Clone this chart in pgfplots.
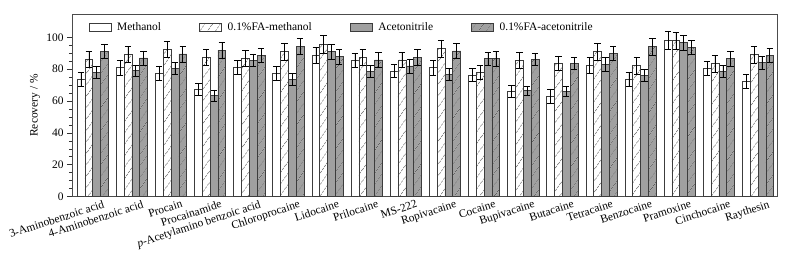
\documentclass[border=0pt]{standalone}
\usepackage{fontspec}
\setmainfont{Liberation Serif}
\usepackage{pgfplots}
\usepackage{pgfplotstable}
\pgfplotsset{compat=1.18}
\usetikzlibrary{patterns.meta}

\definecolor{bargray}{RGB}{160,160,160}
\definecolor{edge}{RGB}{60,60,60}

\pgfplotstableread{
x m me fm fme a ae fa fae
0 73.6 4.2 86.4 5.0 78.0 4.0 91.2 4.6
1 81.0 4.6 89.2 5.0 79.0 3.5 87.0 4.5
2 77.5 4.5 92.5 5.0 80.5 4.0 89.5 5.0
3 67.5 3.6 87.4 5.0 63.5 3.5 92.0 5.0
4 81.0 4.5 86.8 5.0 85.5 4.0 88.5 4.5
5 77.5 4.3 91.0 5.5 73.5 3.8 94.2 5.0
6 88.7 5.0 95.6 5.4 91.0 4.6 87.8 4.7
7 85.6 4.2 87.3 5.2 78.7 3.7 85.8 4.5
8 78.9 4.0 85.8 4.8 82.0 4.4 87.3 5.0
9 80.9 4.8 92.9 5.5 76.5 3.8 91.4 4.8
10 76.3 4.0 78.0 4.6 86.6 4.0 86.6 4.8
11 65.9 3.7 85.4 5.0 66.5 3.0 86.2 4.0
12 63.2 4.4 83.7 4.6 66.0 3.0 83.7 4.0
13 82.3 5.0 91.0 5.2 83.1 4.4 90.0 4.5
14 73.6 4.2 82.2 5.2 76.0 3.6 94.1 5.3
15 98.3 5.7 97.9 5.2 96.6 4.8 93.5 4.4
16 80.5 4.6 83.5 5.3 78.6 3.8 86.5 4.6
17 72.5 4.2 89.1 5.2 84.0 4.0 88.5 4.5
}\data

\begin{document}
\begin{tikzpicture}[font=\fontsize{11.5}{13}\selectfont]
\begin{axis}[
  scale only axis,
  width=705bp, height=182.4bp,
  ybar=0pt, bar width=0.2,
  xmin=-0.53, xmax=17.485,
  ymin=0, ymax=114.4,
  ytick={0,20,...,100}, minor y tick num=3,
  tick pos=left, tick align=outside,
  major tick length=5bp, minor tick length=3bp,
  xtick={0,...,17},
  xticklabels={3-Aminobenzoic acid,4-Aminobenzoic acid,Procain,Procainamide,{\itshape p}-Acetylamino benzoic acid,Chloroprocaine,Lidocaine,Prilocaine,MS-222,Ropivacaine,Cocaine,Bupivacaine,Butacaine,Tetracaine,Benzocaine,Pramoxine,Cinchocaine,Raythesin},
  x tick style={draw=none},
  xticklabel style={rotate=18, anchor=north east, xshift=11bp, inner sep=1bp},
  tick label style={font=\fontsize{11.5}{13}\selectfont},
  ylabel={Recovery / \%},
  ylabel style={font=\fontsize{11.5}{13}\selectfont, at={(axis description cs:-0.0525,0.5)}, anchor=center},
  /pgf/number format/assume math mode=true,
  axis line style={black!70, line width=0.8bp},
  tick style={black!80, line width=0.7bp},
  legend style={at={(axis description cs:0.019,0.93)}, anchor=west, draw=none, fill=none,
    font=\fontsize{11.5}{13}\selectfont, legend columns=4,
    /tikz/every even column/.append style={column sep=36bp}},
  legend image code/.code={\draw[#1] (0bp,-4bp) rectangle (22bp,4bp); \path (26bp,0bp);},
  error bars/y dir=both, error bars/y explicit,
  error bars/error bar style={black, line width=0.6bp, solid},
  error bars/error mark options={rotate=90, mark size=3.2bp, line width=0.6bp, black},
]
\addplot[fill=white, draw=edge, line width=0.6bp] table[x=x, y=m, y error=me] {\data};
\addplot[fill=white, draw=edge, line width=0.6bp, postaction={pattern={Lines[angle=55,distance=6bp,line width=0.5bp]}, pattern color=edge}] table[x=x, y=fm, y error=fme] {\data};
\addplot[fill=bargray, draw=edge, line width=0.6bp] table[x=x, y=a, y error=ae] {\data};
\addplot[fill=bargray, draw=edge, line width=0.6bp, postaction={pattern={Lines[angle=55,distance=6bp,line width=0.5bp]}, pattern color=edge}] table[x=x, y=fa, y error=fae] {\data};
\legend{Methanol,0.1\%FA-methanol,Acetonitrile,0.1\%FA-acetonitrile}
\end{axis}
\path ([xshift=-72bp,yshift=-58.3bp]current axis.south west) rectangle ([xshift=8bp,yshift=14.3bp]current axis.north east);
\end{tikzpicture}
\end{document}
